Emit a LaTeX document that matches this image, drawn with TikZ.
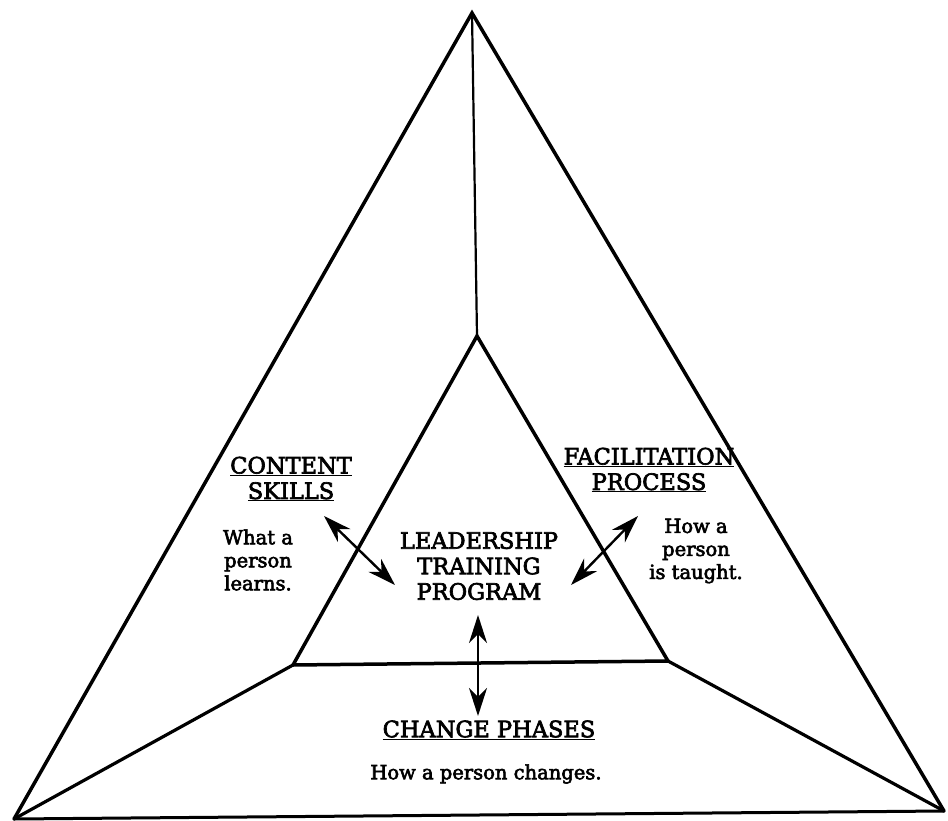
\documentclass[tikz,border=0pt]{standalone}
\usepackage{fontspec}
\setmainfont{DejaVu Serif}[BoldFont=DejaVu Serif,BoldFeatures={FakeBold=3}]
\usetikzlibrary{arrows.meta}
\begin{document}
\begin{tikzpicture}[x=1pt,y=-1pt,
  edge/.style={line width=3.5pt,line join=miter,line cap=round},
  spoke/.style={line width=3.2pt,line cap=round},
  tip/.tip={Stealth[length=28pt,width=18pt,inset=9pt]},
  dblarrow/.style={line width=2.4pt,tip-tip},
  label/.style={align=center,inner sep=0pt,font=\bfseries\fontsize{22.5}{25.5}\selectfont},
  note/.style={align=center,inner sep=0pt,font=\bfseries\fontsize{19.5}{23}\selectfont}]
\useasboundingbox (0,0) rectangle (948,821);
% outer and inner vertices
\coordinate (OT) at (472,13);
\coordinate (OL) at (14,819);
\coordinate (OR) at (944,811);
\coordinate (IT) at (477,336);
\coordinate (IL) at (293,665);
\coordinate (IR) at (668,661);
% outer triangle
\draw[edge] (OL) -- (OT) -- (OR);
\draw[line width=3pt] (OL) -- (OR);
% inner triangle
\draw[edge] (IT) -- (IL) -- (IR) -- cycle;
% spokes joining the corners
\draw[line width=2.2pt] (OT) -- (IT);
\draw[spoke] (OL) -- (IL);
\draw[spoke] (OR) -- (IR);
% labels
\node[label] (content) at (291,479) {\underline{CONTENT}\\\underline{SKILLS}};
\node[note] (learns) at (258,560) {What a\\person\\learns.};
\node[label] (facil) at (649,470) {\underline{FACILITATION}\\\underline{PROCESS}};
\node[note] (taught) at (696,551) {How a\\person\\is taught.};
\node[label] (program) at (479,566) {LEADERSHIP\\TRAINING\\PROGRAM};
\node[label] (phases) at (489,730) {\underline{CHANGE PHASES}};
\node[note] (changes) at (486,774) {How a person changes.};
% arrow ends
\coordinate (csA) at (324,516);
\coordinate (csB) at (395,585);
\coordinate (fpA) at (638,516);
\coordinate (fpB) at (571,585);
\coordinate (cpA) at (478,615);
\coordinate (cpB) at (478,716);
\draw[dblarrow] (csA) -- (csB);
\draw[dblarrow] (fpA) -- (fpB);
\draw[dblarrow] (cpA) -- (cpB);
\end{tikzpicture}
\end{document}
